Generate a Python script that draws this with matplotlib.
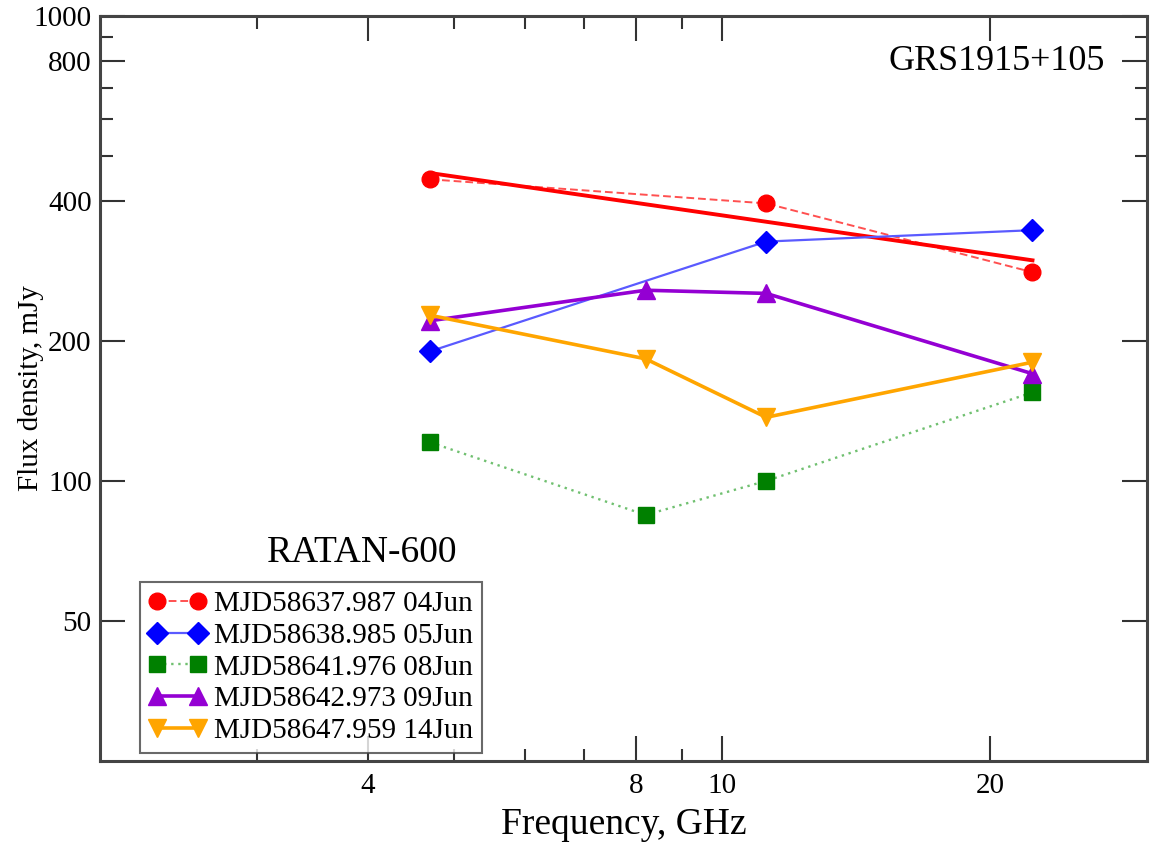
import matplotlib
matplotlib.use("Agg")
import matplotlib.pyplot as plt
from matplotlib.ticker import FixedLocator, FixedFormatter, NullFormatter

plt.rcParams['font.family'] = ['Liberation Serif', 'DejaVu Serif']

# RATAN-600 observing frequencies, GHz
freq = [4.7, 8.2, 11.2, 22.3]

# flux densities, mJy (None = no measurement)
flux_04jun = [445, None, 395, 281]
flux_05jun = [190, None, 327, 346]
flux_08jun = [121, 84.5, 100, 155]
flux_09jun = [221, 257, 253, 170]
flux_14jun = [227, 183, 137, 180]

# power-law fit for 04 Jun
fit_freq = [4.7, 22.3]
fit_flux = [459, 298]

labels = ["MJD58637.987 04Jun", "MJD58638.985 05Jun", "MJD58641.976 08Jun",
          "MJD58642.973 09Jun", "MJD58647.959 14Jun"]

x_major = [4, 8, 10, 20]
x_minor = [3, 5, 6, 7, 9]
y_major = [50, 100, 200, 400, 800, 1000]
y_minor = [500, 600, 700, 900]


def pairs(xs, ys):
    pts = [(x, y) for x, y in zip(xs, ys) if y is not None]
    return [p[0] for p in pts], [p[1] for p in pts]


fig = plt.figure(figsize=(11.61, 8.43), dpi=100)
ax = fig.add_axes([0.0861, 0.0973, 0.902, 0.884])

x, y = pairs(freq, flux_04jun)
ax.plot(x, y, color='#ff5050', ls=(0, (4, 2)), lw=1.4, marker='o', ms=12,
        mfc='red', mec='red', label=labels[0])
ax.plot(fit_freq, fit_flux, color='red', lw=2.8)

x, y = pairs(freq, flux_05jun)
ax.plot(x, y, color='#5a5aff', lw=1.6, marker='D', ms=11,
        mfc='blue', mec='blue', label=labels[1])

x, y = pairs(freq, flux_08jun)
ax.plot(x, y, color='#70c070', ls=(0, (1, 2)), lw=1.7, marker='s', ms=11,
        mfc='green', mec='green', label=labels[2])

x, y = pairs(freq, flux_09jun)
ax.plot(x, y, color='darkviolet', lw=2.6, marker='^', ms=13,
        label=labels[3])

x, y = pairs(freq, flux_14jun)
ax.plot(x, y, color='orange', lw=2.6, marker='v', ms=13,
        label=labels[4])

ax.set_xscale('log')
ax.set_yscale('log')
ax.set_xlim(2, 30)
ax.set_ylim(25, 1000)

ax.xaxis.set_major_locator(FixedLocator(x_major))
ax.xaxis.set_minor_locator(FixedLocator(x_minor))
ax.xaxis.set_major_formatter(FixedFormatter([str(v) for v in x_major]))
ax.xaxis.set_minor_formatter(NullFormatter())
ax.yaxis.set_major_locator(FixedLocator(y_major))
ax.yaxis.set_minor_locator(FixedLocator(y_minor))
ax.yaxis.set_major_formatter(FixedFormatter([str(v) for v in y_major]))
ax.yaxis.set_minor_formatter(NullFormatter())

ax.tick_params(which='both', direction='in', top=True, right=True,
               labelsize=21, color='#333333', width=1.5)
ax.tick_params(which='major', length=18)
ax.tick_params(axis='x', which='major', pad=9)
ax.tick_params(axis='y', which='major', pad=6)
ax.tick_params(which='minor', length=9)
for s in ax.spines.values():
    s.set_linewidth(2.2)
    s.set_color('#444444')

ax.set_xlabel("Frequency, GHz", fontsize=27, labelpad=6)
ax.set_ylabel("Flux density, mJy", fontsize=21, va='center')
ax.yaxis.set_label_coords(-0.066, 0.5)

ax.text(0.96, 0.938, "GRS1915+105", transform=ax.transAxes, fontsize=26,
        ha='right', va='center')
ax.text(0.25, 0.28, "RATAN-600", transform=ax.transAxes, fontsize=27,
        ha='center', va='center')

leg = ax.legend(loc='lower left', bbox_to_anchor=(0.038, 0.011), fontsize=21,
                frameon=True, fancybox=False, edgecolor='#444444',
                handlelength=2.0, handletextpad=0.25, labelspacing=0.18,
                borderpad=0.3, numpoints=2, borderaxespad=0)
leg.get_frame().set_linewidth(1.5)

fig.savefig("out.png", dpi=100)
